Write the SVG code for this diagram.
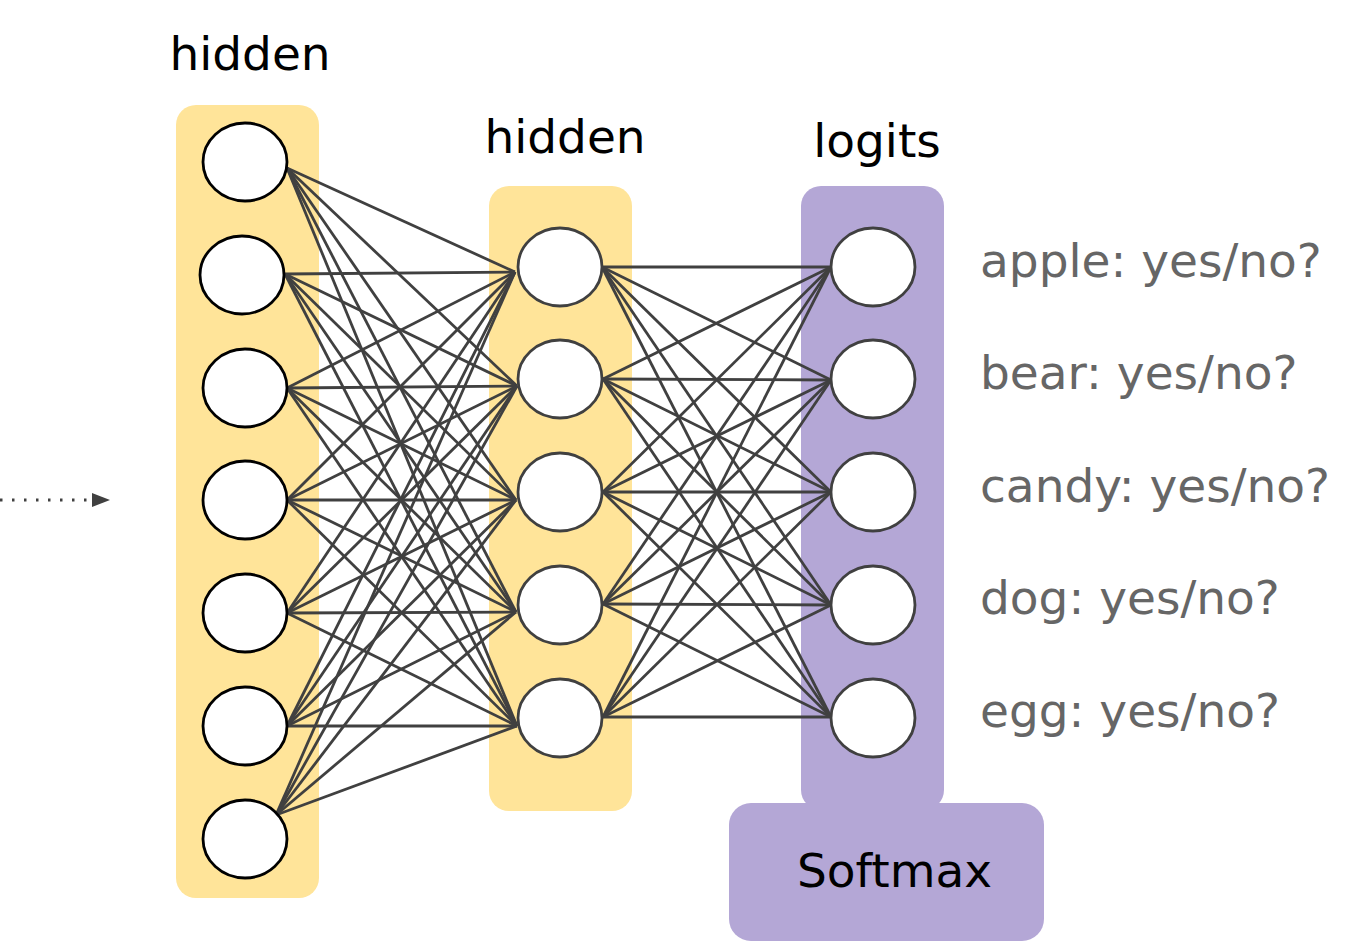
<svg xmlns="http://www.w3.org/2000/svg" width="1352" height="944" viewBox="0 0 1352 944">
<style>
.yel{fill:#FFE499}
.pur{fill:#B4A7D6}
.n1{fill:#fff;stroke:#000;stroke-width:2.8}
.n2{fill:#fff;stroke:#404040;stroke-width:2.8}
.t{font-family:"DejaVu Sans",sans-serif;font-size:47px;fill:#000}
.g{font-family:"DejaVu Sans",sans-serif;font-size:47px;fill:#666}
#connectors line{stroke:#404040;stroke-width:2.8}
</style>
<rect class="yel" x="176" y="105" width="143" height="793" rx="20"/>
<rect class="yel" x="489" y="186" width="143" height="625" rx="20"/>
<rect class="pur" x="801" y="186" width="143" height="624" rx="20"/>
<g id="softmax">
<rect class="pur" x="729" y="803" width="315" height="138" rx="22"/>
<text class="t" x="797" y="887">Softmax</text>
</g>
<text class="t" x="250" y="70" text-anchor="middle">hidden</text>
<text class="t" x="565" y="153" text-anchor="middle">hidden</text>
<text class="t" x="877" y="157" text-anchor="middle">logits</text>
<g id="labels">
<text class="g" x="980" y="277">apple: yes/no?</text>
<text class="g" x="980" y="389">bear: yes/no?</text>
<text class="g" x="980" y="502">candy: yes/no?</text>
<text class="g" x="980" y="614">dog: yes/no?</text>
<text class="g" x="980" y="727">egg: yes/no?</text>
</g>
<g id="connectors">
<line x1="0" y1="500" x2="92" y2="500" style="stroke-dasharray:2.5 9.5"/>
<polygon points="92,493 110,500 92,507" fill="#404040"/>
<line x1="287" y1="168" x2="515" y2="272"/><line x1="287" y1="168" x2="517" y2="386"/><line x1="287" y1="168" x2="516" y2="500"/><line x1="287" y1="168" x2="516" y2="612"/><line x1="287" y1="168" x2="517" y2="726"/>
<line x1="285" y1="274" x2="515" y2="272"/><line x1="285" y1="274" x2="517" y2="386"/><line x1="285" y1="274" x2="516" y2="500"/><line x1="285" y1="274" x2="516" y2="612"/><line x1="285" y1="274" x2="517" y2="726"/>
<line x1="287" y1="388" x2="515" y2="272"/><line x1="287" y1="388" x2="517" y2="386"/><line x1="287" y1="388" x2="516" y2="500"/><line x1="287" y1="388" x2="516" y2="612"/><line x1="287" y1="388" x2="517" y2="726"/>
<line x1="287" y1="500" x2="515" y2="272"/><line x1="287" y1="500" x2="517" y2="386"/><line x1="287" y1="500" x2="516" y2="500"/><line x1="287" y1="500" x2="516" y2="612"/><line x1="287" y1="500" x2="517" y2="726"/>
<line x1="287" y1="613" x2="515" y2="272"/><line x1="287" y1="613" x2="517" y2="386"/><line x1="287" y1="613" x2="516" y2="500"/><line x1="287" y1="613" x2="516" y2="612"/><line x1="287" y1="613" x2="517" y2="726"/>
<line x1="287" y1="726" x2="515" y2="272"/><line x1="287" y1="726" x2="517" y2="386"/><line x1="287" y1="726" x2="516" y2="500"/><line x1="287" y1="726" x2="516" y2="612"/><line x1="287" y1="726" x2="517" y2="726"/>
<line x1="276" y1="815" x2="515" y2="272"/><line x1="276" y1="815" x2="517" y2="386"/><line x1="276" y1="815" x2="516" y2="500"/><line x1="276" y1="815" x2="516" y2="612"/><line x1="276" y1="815" x2="517" y2="726"/>
<line x1="602" y1="267" x2="831" y2="267"/><line x1="602" y1="267" x2="831" y2="380"/><line x1="602" y1="267" x2="831" y2="492"/><line x1="602" y1="267" x2="831" y2="605"/><line x1="602" y1="267" x2="831" y2="717"/>
<line x1="603" y1="379" x2="831" y2="267"/><line x1="603" y1="379" x2="831" y2="380"/><line x1="603" y1="379" x2="831" y2="492"/><line x1="603" y1="379" x2="831" y2="605"/><line x1="603" y1="379" x2="831" y2="717"/>
<line x1="603" y1="492" x2="831" y2="267"/><line x1="603" y1="492" x2="831" y2="380"/><line x1="603" y1="492" x2="831" y2="492"/><line x1="603" y1="492" x2="831" y2="605"/><line x1="603" y1="492" x2="831" y2="717"/>
<line x1="603" y1="604" x2="831" y2="267"/><line x1="603" y1="604" x2="831" y2="380"/><line x1="603" y1="604" x2="831" y2="492"/><line x1="603" y1="604" x2="831" y2="605"/><line x1="603" y1="604" x2="831" y2="717"/>
<line x1="603" y1="717" x2="831" y2="267"/><line x1="603" y1="717" x2="831" y2="380"/><line x1="603" y1="717" x2="831" y2="492"/><line x1="603" y1="717" x2="831" y2="605"/><line x1="603" y1="717" x2="831" y2="717"/>
</g>
<g id="h1-1"><ellipse class="n1" cx="245" cy="162" rx="42" ry="39"/></g>
<g id="h1-2"><ellipse class="n1" cx="242" cy="275" rx="42" ry="39"/></g>
<g id="h1-3"><ellipse class="n1" cx="245" cy="388" rx="42" ry="39"/></g>
<g id="h1-4"><ellipse class="n1" cx="245" cy="500" rx="42" ry="39"/></g>
<g id="h1-5"><ellipse class="n1" cx="245" cy="613" rx="42" ry="39"/></g>
<g id="h1-6"><ellipse class="n1" cx="245" cy="726" rx="42" ry="39"/></g>
<g id="h1-7"><ellipse class="n1" cx="245" cy="839" rx="42" ry="39"/></g>
<g id="h2-1"><ellipse class="n2" cx="560" cy="267" rx="42" ry="39"/></g>
<g id="h2-2"><ellipse class="n2" cx="560" cy="379" rx="42" ry="39"/></g>
<g id="h2-3"><ellipse class="n2" cx="560" cy="492" rx="42" ry="39"/></g>
<g id="h2-4"><ellipse class="n2" cx="560" cy="605" rx="42" ry="39"/></g>
<g id="h2-5"><ellipse class="n2" cx="560" cy="718" rx="42" ry="39"/></g>
<g id="l-1"><ellipse class="n2" cx="873" cy="267" rx="42" ry="39"/></g>
<g id="l-2"><ellipse class="n2" cx="873" cy="379" rx="42" ry="39"/></g>
<g id="l-3"><ellipse class="n2" cx="873" cy="492" rx="42" ry="39"/></g>
<g id="l-4"><ellipse class="n2" cx="873" cy="605" rx="42" ry="39"/></g>
<g id="l-5"><ellipse class="n2" cx="873" cy="718" rx="42" ry="39"/></g>
</svg>
